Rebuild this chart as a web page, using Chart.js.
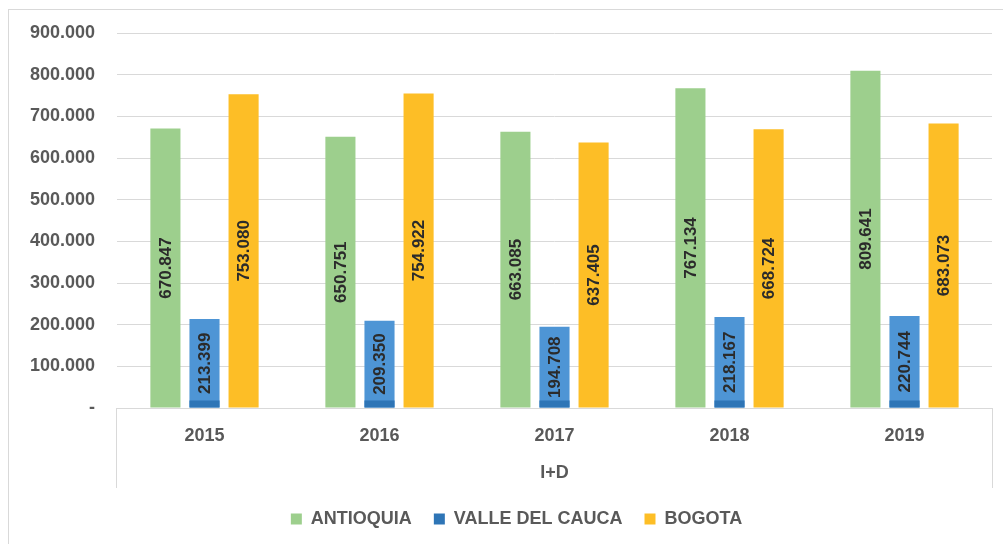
<!DOCTYPE html>
<html>
<head>
<meta charset="utf-8">
<script src="https://cdn.jsdelivr.net/npm/chart.js@4"></script>
<style>
  html, body { margin: 0; padding: 0; background: #fff; overflow: hidden; }
  #wrap {
    position: absolute; left: 8px; top: 9px; width: 995px; height: 535px;
    border-top: 1px solid #d9d9d9; border-left: 1px solid #d9d9d9;
  }
  #chart { position: absolute; left: 0; top: 0; width: 994px; height: 534px; }
</style>
</head>
<body>
<div id="wrap"><div id="chart"></div></div>
<script>
// datos
const years = ['2015', '2016', '2017', '2018', '2019'];
const seriesNames = ['ANTIOQUIA', 'VALLE DEL CAUCA', 'BOGOTA'];
const antioquia = [670847, 650751, 663085, 767134, 809641];
const valle = [213399, 209350, 194708, 218167, 220744];
const bogota = [753080, 754922, 637405, 668724, 683073];
const yTickLabels = ['-', '100.000', '200.000', '300.000', '400.000', '500.000', '600.000', '700.000', '800.000', '900.000'];
const groupTitle = 'I+D';

const barColors = ['#9dcf8d', '#4e95d5', '#fdbe26'];
const legendColors = ['#9dcf8d', '#2e75b6', '#fdbe26'];
const gray = '#595959';
const fontFam = '"Liberation Sans", Arial, sans-serif';

function fmt(v) {
  return String(v).replace(/\B(?=(\d{3})+(?!\d))/g, '.');
}

const ctx = document.createElement('canvas');
document.getElementById('chart').appendChild(ctx);

// franja oscura abajo de las barras azules + etiquetas verticales + bordes del eje
const barExtras = {
  id: 'barExtras',
  afterLayout(chart) {
    // la leyenda del original va un poco corrida a la derecha
    chart.legend.left += 16;
    chart.legend.right += 16;
  },
  afterDatasetsDraw(chart) {
    const c = chart.ctx;
    const metaBlue = chart.getDatasetMeta(1);
    c.save();
    c.fillStyle = '#2e75b6';
    metaBlue.data.forEach(bar => {
      c.fillRect(bar.x - bar.width / 2, bar.base - 7, bar.width, 7);
    });
    c.font = 'bold 17px ' + fontFam;
    c.fillStyle = '#2b2b2b';
    c.textAlign = 'center';
    c.textBaseline = 'middle';
    chart.data.datasets.forEach((ds, i) => {
      chart.getDatasetMeta(i).data.forEach((bar, j) => {
        c.save();
        c.translate(bar.x, (bar.y + bar.base) / 2);
        c.rotate(-Math.PI / 2);
        c.fillText(fmt(ds.data[j]), 0, 1);
        c.restore();
      });
    });
    c.restore();
  },
  afterDraw(chart) {
    const c = chart.ctx;
    const a = chart.chartArea;
    const xs = chart.scales.x;
    c.save();
    c.strokeStyle = '#d9d9d9';
    c.lineWidth = 1;
    c.beginPath();
    c.moveTo(Math.round(a.left) - 0.5, a.bottom);
    c.lineTo(Math.round(a.left) - 0.5, xs.bottom);
    c.moveTo(Math.round(a.right) + 0.5, a.bottom);
    c.lineTo(Math.round(a.right) + 0.5, xs.bottom);
    c.stroke();
    c.restore();
  }
};

const myChart = new Chart(ctx, {
  type: 'bar',
  data: {
    labels: years,
    datasets: [
      { label: seriesNames[0], data: antioquia, backgroundColor: barColors[0] },
      { label: seriesNames[1], data: valle, backgroundColor: barColors[1] },
      { label: seriesNames[2], data: bogota, backgroundColor: barColors[2] }
    ]
  },
  options: {
    responsive: true,
    maintainAspectRatio: false,
    animation: false,
    categoryPercentage: 0.67,
    barPercentage: 0.77,
    layout: { padding: { top: 23, right: 11, bottom: 6, left: 0 } },
    plugins: {
      tooltip: { enabled: false },
      legend: {
        position: 'bottom',
        labels: {
          boxWidth: 11,
          boxHeight: 11,
          padding: 22,
          color: gray,
          font: { family: fontFam, size: 18, weight: 'bold' },
          generateLabels(chart) {
            const items = Chart.defaults.plugins.legend.labels.generateLabels(chart);
            items.forEach((it, i) => {
              it.fillStyle = legendColors[i];
              it.strokeStyle = legendColors[i];
              it.lineWidth = 0;
            });
            return items;
          }
        }
      }
    },
    scales: {
      x: {
        grid: { display: false, drawTicks: false },
        border: { display: true, color: '#d9d9d9', width: 1 },
        ticks: {
          padding: 17,
          color: gray,
          font: { family: fontFam, size: 18, weight: 'bold' }
        },
        title: {
          display: true,
          text: groupTitle,
          color: gray,
          padding: { top: 4, bottom: 4 },
          font: { family: fontFam, size: 18, weight: 'bold' }
        },
        afterFit(scale) { scale.height = 80; }
      },
      y: {
        min: 0,
        max: 900000,
        grid: { color: '#d9d9d9', lineWidth: 1, drawTicks: true, tickLength: 22, tickColor: 'rgba(0,0,0,0)' },
        border: { display: false },
        ticks: {
          stepSize: 100000,
          padding: 0,
          color: gray,
          font: { family: fontFam, size: 18, weight: 'bold' },
          callback: (v, i) => yTickLabels[i]
        },
        afterFit(scale) { scale.width = 108; }
      }
    }
  },
  plugins: [barExtras]
});
</script>
</body>
</html>
